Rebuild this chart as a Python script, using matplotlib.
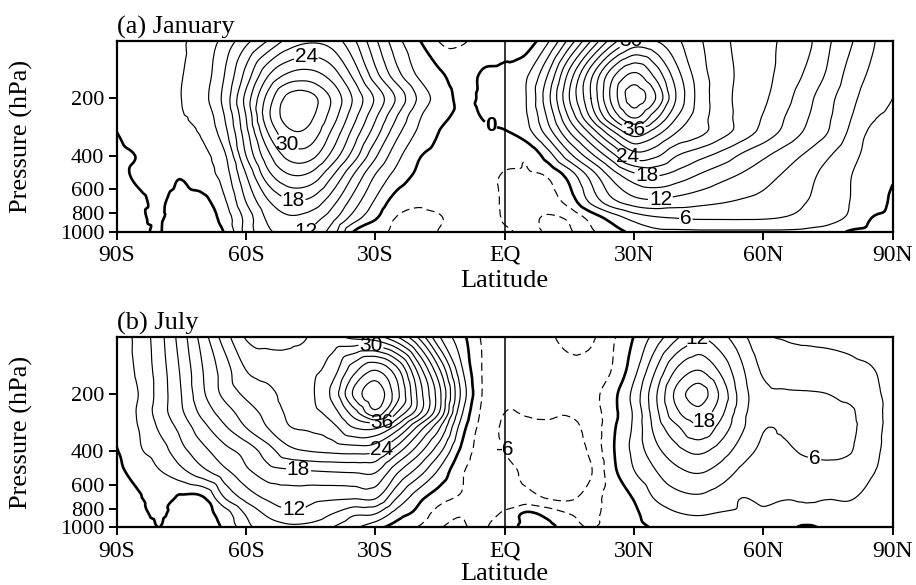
import matplotlib
matplotlib.use('Agg')
import matplotlib.pyplot as plt
import matplotlib.tri as mtri
from matplotlib.ticker import NullLocator
import numpy as np

# latitude (deg, south negative) and pressure levels (hPa) of the grid
lats = [-90, -85, -80, -75, -70, -65, -60, -55, -50, -45, -40, -35, -30, -25, -20, -15, -10, -5,
        0, 5, 10, 15, 20, 25, 30, 35, 40, 45, 50, 55, 60, 65, 70, 75, 80, 85, 90]
plevs = [1000, 850, 700, 500, 400, 300, 250, 200, 150, 100]

# zonal mean zonal wind (m/s), January, one row per pressure level
jan_1000 = [-1, -0.5, 0.1, -2, -2, 0.2, 7, 11.5, 12.5, 11.5, 7.5, -0.1, -2, -3.5, -3.8, -2.9, -2, -1.8,
            -2.5, -4, -6.5, -6.3, -3.5, -1.3, 0.8, 2.2, 2.4, 2.5, 2.5, 2.5, 2.5, 2.5, 2.3, 1.8, -0.3, -0.8, -1]
jan_850 = [-0.8, -0.3, 0.2, -1.5, -1.5, 1.2, 7, 12.5, 14.5, 13.5, 10, 4.5, 0.3, -3.2, -3.8, -3.2, -1.5, -1.5,
           -3.3, -5, -6.3, -5.5, -2, 1.2, 4, 5.5, 6, 6.3, 6.3, 6.3, 6.2, 5.8, 5, 4, 2.5, 0, -0.8]
jan_700 = [-0.8, -0.3, 0.2, -0.8, -0.8, 2.5, 9, 14.5, 17.5, 17, 13, 7.5, 2.5, -1.5, -2.5, -2, -1.5, -2,
           -3.3, -4, -4.5, -1.8, 3.5, 8, 10.5, 11.3, 10.5, 9.8, 9.2, 8.6, 8, 7, 6, 4.8, 3, 1.3, -0.4]
jan_500 = [-0.5, 0.3, 0.8, 0.2, 1.8, 4.5, 12, 20, 24, 23.5, 18.5, 12, 6, 2, -0.5, -1.2, -1.2, -1.8,
           -3.2, -3.4, -2.5, 1.5, 7.5, 13.5, 17.5, 18.5, 17, 15, 13.3, 11.8, 10.3, 8.7, 7, 5, 3.2, 1.5, 0.3]
jan_400 = [-0.5, 0.1, 1, 1.5, 2.3, 5.5, 15, 23, 28, 28, 23, 16.5, 9.5, 4, 0.3, -0.8, -0.8, -1,
           -1.8, -2.5, 1.5, 8, 14, 20, 25.5, 24.5, 21, 19, 17, 14.5, 12.5, 10.5, 8.5, 6.3, 4, 2, 1]
jan_300 = [0, 1, 1.5, 2.5, 3.5, 8, 17, 27, 32.5, 32, 26.5, 20, 13.5, 7, 2.5, -0.1, -0.8, -0.4,
           -0.2, 1.8, 7.5, 15, 22, 29.5, 35, 31.5, 27, 25, 22.3, 19.8, 17, 14.2, 11.5, 9, 5.6, 2.5, 1.5]
jan_250 = [0.5, 1.5, 2, 2.8, 4, 9, 18, 29, 34.5, 33.5, 28.5, 22, 15.5, 9, 3.5, 0.8, -0.5, 0.1,
           1, 2.7, 9.5, 18.5, 27.5, 36.5, 42.5, 37, 30, 25.5, 22.5, 20, 17.8, 15, 12.3, 9.5, 6.3, 3.5, 2.3]
jan_200 = [0.8, 1.5, 2, 3, 5, 10, 19, 28, 34, 34, 29.5, 23.5, 17.5, 11.5, 5.5, 1.5, -0.5, 0.4,
           1.5, 3, 11, 21, 30, 40, 46.5, 42, 32.5, 26, 22.5, 20, 18.5, 16, 13, 10, 7, 4.5, 3]
jan_150 = [1.2, 1.8, 2.2, 2.9, 4.5, 9, 16, 23.5, 27.5, 28, 25.5, 20, 13, 7, 2.5, 0.4, -1.2, 0.3,
           0.8, 2.5, 9, 19, 29, 38, 42.5, 38, 31, 25.5, 22.5, 20.3, 18.8, 17, 14.5, 11.5, 8, 5.5, 3.8]
jan_100 = [1.5, 2, 2.5, 2.8, 4, 7, 11, 15, 19, 20.5, 19.5, 15.5, 9.5, 4, 0.3, -3.2, -3.3, -2,
           -1.5, -1.5, 2.5, 10, 18, 25.5, 30.5, 30, 27.5, 24.5, 22, 20, 18.8, 17.5, 15.8, 12.5, 9.5, 6.5, 4]

# July
jul_1000 = [-1.5, -1, 0, -1.5, -1.5, 0.5, 5, 7.5, 8.3, 7.8, 6, 3.5, 1, -1.3, -3.2, -5.8, -6.6, -3.5,
            -1.5, 0.8, 0.8, -1.5, -3.2, -1.5, -0.7, 0.3, 1.5, 1.8, 1.2, 0.6, 0.5, 0.6, -0.4, 0.5, 0.6, 0.6, 0.5]
jul_850 = [-1, -0.5, 0.3, -1, -1, 1.5, 6.3, 9.5, 11.3, 11, 9, 6.5, 6, 1.5, -1, -4.5, -5.8, -4.2,
           -2.5, 0.5, -1, -3, -3.5, -2, -0.5, 1.5, 2.8, 3.2, 2.8, 2.5, 2.4, 2.3, 2.3, 2.3, 2, 1.2, 0.8]
jul_700 = [-1, -0.3, 1.5, -0.5, -0.3, 6, 10, 12.5, 13.2, 12.8, 12.5, 12.3, 12.3, 6, 1, -1.8, -3.5, -4.5,
           -5, -5, -6.2, -6.5, -4.5, -1.5, 0.2, 3.3, 5, 5.5, 4.5, 3, 3.6, 3.1, 3.2, 3.1, 3.2, 2.2, 1.5]
jul_500 = [-0.5, 1, 3, 5.5, 8.5, 11.5, 14.5, 17, 17.8, 18.2, 18.5, 18.7, 18.7, 13, 8, 2.5, -2.5, -4.5,
           -5.5, -6.3, -6.8, -6.8, -6.2, -0.8, 3, 6, 8.5, 9.5, 8, 5.5, 4, 4.2, 4.8, 5, 4.4, 3.3, 1.8]
jul_400 = [-0.2, 2.5, 4.5, 8, 11, 14, 16, 19.5, 23, 24, 24.5, 24.8, 24.2, 19, 13, 6.5, -0.8, -4.5,
           -6, -6.8, -7, -7, -5.5, -0.4, 3.8, 8, 11, 12.5, 10.5, 7.5, 5.3, 5.5, 6.4, 6.8, 6.2, 3.8, 2]
jul_300 = [0.7, 3, 6.5, 10, 14, 17.5, 21, 24, 26.8, 27.5, 29, 33, 33.5, 28.5, 20, 12, 1.5, -4.3,
           -6.3, -6.5, -6.5, -6.5, -5, -0.6, 3.6, 10, 14.5, 17.5, 14, 9.5, 6.2, 6.3, 7, 7.2, 6.8, 4, 2.2]
jul_250 = [1, 3.3, 7.5, 11.5, 16, 19.5, 22.5, 25, 27.6, 29, 31.5, 37.5, 44, 36, 28, 17.5, 3.5, -3.8,
           -6, -5.8, -5.5, -5.8, -4.5, -1, 3.5, 11, 17.5, 20, 16, 10, 7, 6.5, 6.7, 6.8, 6.5, 4, 2.2]
jul_200 = [1.2, 3, 7.3, 12, 17.5, 21.8, 24.6, 26, 28.4, 29.5, 33.7, 42.5, 47, 40, 29, 18.5, 5.3, -3.3,
           -5.5, -5, -4.5, -4.8, -4, -1, 4, 11.5, 19, 22.5, 17.5, 10.5, 6.8, 6.3, 6.2, 6, 5.2, 3.8, 2]
jul_150 = [1.5, 3.5, 7.5, 12.5, 18, 22.5, 27, 28.3, 28.8, 29.3, 31.5, 38, 42, 37, 26, 15, 3.5, -3.3,
           -5, -4.3, -4.8, -5.3, -5, -2.8, 2, 9, 15.5, 18, 14.5, 9.5, 5.5, 4.5, 4.5, 4.3, 3.8, 3.2, 1.8]
jul_100 = [1.5, 3.8, 8, 13.5, 19.5, 25.5, 30.3, 31, 30.7, 29.8, 28, 26, 25, 21, 14.5, 6, 1, -3.5,
           -5, -4, -5.5, -6.8, -6.5, -3.5, 0.1, 4.2, 8.5, 11.8, 10, 6.8, 3.5, 2.8, 2.5, 2.3, 2, 1.5, 1]

xtick_vals = [-90, -60, -30, 0, 30, 60, 90]
xtick_text = ['90S', '60S', '30S', 'EQ', '30N', '60N', '90N']
ytick_vals = [200, 400, 600, 800, 1000]
ytick_text = ['200', '400', '600', '800', '1000']

# contour labels: level and where it sits (lat, hPa)
jan_lab_lev = [24, 30, 18, 12, 0, 30, 36, 24, 18, 12, 6]
jan_lab_lat = [-46, -49.4, -49, -47, -3.7, 30.5, 30, 28, 33, 36, 42]
jan_lab_p = [126, 320, 660, 950, 287, 103, 284, 421, 504, 630, 860]
jul_lab_lev = [30, 36, 24, 18, 12, -6, 12, 18, 6]
jul_lab_lat = [-31, -28.5, -28.5, -47.8, -49, 4, 45, 46, 71.8]
jul_lab_p = [112, 277, 394, 489, 812, 363, 108, 274, 444]

plt.rcParams['font.family'] = ['Liberation Sans', 'DejaVu Sans']
serif = 'Liberation Serif'

fig = plt.figure(figsize=(9.16, 5.85), dpi=100)
ax1 = fig.add_axes([0.1274, 0.6039, 0.8472, 0.3265])
ax2 = fig.add_axes([0.1274, 0.0986, 0.8472, 0.3259])

# grid as a triangulation in (lat, ln p), smoothed by matplotlib's cubic refiner
lat_g, p_g = np.meshgrid(lats, plevs)
base_tri = mtri.Triangulation(lat_g.ravel() / 5.0, np.log(p_g.ravel()) * 8.0)
refiner = mtri.UniformTriRefiner(base_tri)


def draw_panel(ax, rows, title, lab_lev, lab_lat, lab_p, xlab_y):
    u = np.array(rows, dtype=float).ravel()
    interp = mtri.CubicTriInterpolator(base_tri, u, kind='geom')
    tri_r, u_r = refiner.refine_field(u, triinterpolator=interp, subdiv=3)
    tri_plot = mtri.Triangulation(tri_r.x * 5.0, np.exp(tri_r.y / 8.0), tri_r.triangles)

    ax.set_yscale('log')
    # one contour set per level so each label goes on the right line
    sets = {}
    for lev in range(-9, 49, 3):
        if lev < 0:
            cs = ax.tricontour(tri_plot, u_r, levels=[lev], colors='k', linewidths=0.85)
            cs.set_linestyle((0, (7, 4)))
        elif lev == 0:
            cs = ax.tricontour(tri_plot, u_r, levels=[lev], colors='k', linewidths=1.9)
        else:
            cs = ax.tricontour(tri_plot, u_r, levels=[lev], colors='k', linewidths=0.85)
        sets[lev] = cs
    ax.axvline(0, color='k', lw=1.1)

    for lev, la, p in zip(lab_lev, lab_lat, lab_p):
        texts = sets[lev].clabel([lev], manual=[(la, p)], fmt='%d', inline=True,
                                 inline_spacing=1, fontsize=15, colors='k')
        for t in texts:
            t.set_rotation(0)
            if t.get_text() == '0':
                t.set_fontweight('bold')

    ax.set_xlim(-90, 90)
    ax.set_ylim(1000, 100)
    ax.set_xticks(xtick_vals)
    ax.set_xticklabels(xtick_text, fontfamily=serif, fontsize=17)
    ax.set_yticks(ytick_vals)
    ax.set_yticklabels(ytick_text, fontfamily=serif, fontsize=16)
    ax.yaxis.set_minor_locator(NullLocator())
    ax.tick_params(direction='out', length=6, width=1.4, pad=3)
    ax.tick_params(axis='x', pad=3.5)
    for s in ax.spines.values():
        s.set_linewidth(1.6)
    ax.set_xlabel('Latitude', fontfamily=serif, fontsize=19)
    ax.xaxis.set_label_coords(0.5, xlab_y)
    ax.set_ylabel('Pressure (hPa)', fontfamily=serif, fontsize=19)
    ax.yaxis.set_label_coords(-0.108, 0.5)
    ax.set_title(title, loc='left', fontfamily=serif, fontsize=19, pad=5)


draw_panel(ax1, [jan_1000, jan_850, jan_700, jan_500, jan_400, jan_300, jan_250, jan_200, jan_150, jan_100],
           '(a) January', jan_lab_lev, jan_lab_lat, jan_lab_p, -0.2)
draw_panel(ax2, [jul_1000, jul_850, jul_700, jul_500, jul_400, jul_300, jul_250, jul_200, jul_150, jul_100],
           '(b) July', jul_lab_lev, jul_lab_lat, jul_lab_p, -0.185)

fig.savefig('out.png', dpi=100)
